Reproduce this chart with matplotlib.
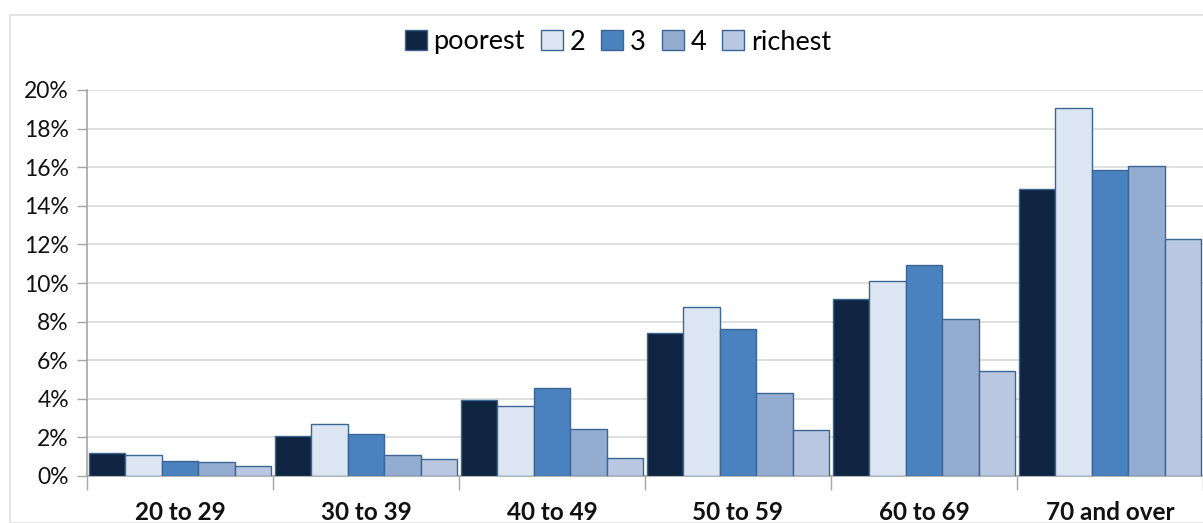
import matplotlib.pyplot as plt
import matplotlib.patches as mpatches
from matplotlib.ticker import FixedLocator, FuncFormatter
import numpy as np

# Age groups and the share (%) in each wealth quintile
age_groups = ["20 to 29", "30 to 39", "40 to 49", "50 to 59", "60 to 69", "70 and over"]
quintiles = ["poorest", "2", "3", "4", "richest"]
poorest = [1.18, 2.07, 3.94, 7.41, 9.17, 14.89]
q2 = [1.10, 2.71, 3.63, 8.74, 10.10, 19.08]
q3 = [0.80, 2.19, 4.56, 7.63, 10.93, 15.87]
q4 = [0.74, 1.07, 2.43, 4.32, 8.12, 16.05]
richest = [0.53, 0.88, 0.93, 2.40, 5.46, 12.30]
series = [poorest, q2, q3, q4, richest]
colors = ["#0F2440", "#DCE6F2", "#4A81BF", "#93ACD0", "#B9C7E0"]
edge = "#3D6594"

plt.rcParams["font.family"] = ["Lato", "DejaVu Sans"]

fig = plt.figure(figsize=(12.03, 5.23), dpi=100)
# chart frame
fig.patches.append(mpatches.Rectangle((10 / 1203, 0), 1.0, 1 - 15 / 523,
                                      transform=fig.transFigure, facecolor="white",
                                      edgecolor="#E4E4E4", linewidth=1.5, zorder=-1))

ax = fig.add_axes([87 / 1203, 1 - 476 / 523, (1203 - 87) / 1203, (476 - 90) / 523])
ax.set_facecolor("none")

n = len(series)
group_w = 0.98
w = group_w / n
x = np.arange(len(age_groups))
for i, (vals, c, name) in enumerate(zip(series, colors, quintiles)):
    ax.bar(x - group_w / 2 + w * (i + 0.5), vals, width=w, color=c,
           edgecolor=edge, linewidth=1.0, label=name, zorder=3)

ax.set_xlim(-0.5, len(age_groups) - 0.5)
ax.set_ylim(0, 20)
ax.yaxis.set_major_locator(FixedLocator(np.arange(0, 21, 2)))
ax.yaxis.set_major_formatter(FuncFormatter(lambda v, p: f"{v:.0f}%"))
ax.grid(axis="y", color="#D9D9D9", linewidth=1.2, zorder=0)
ax.tick_params(axis="y", length=7, width=1, color="#A6A6A6", labelsize=16.5, pad=6,
               labelcolor="#111111")

ax.set_xticks(x)
ax.set_xticklabels(age_groups, fontsize=17.5, fontweight="bold", color="#111111")
ax.tick_params(axis="x", which="major", length=0, pad=18)
ax.set_xticks(np.arange(-0.5, len(age_groups) + 0.5, 1), minor=True)
ax.tick_params(axis="x", which="minor", length=10, width=1, color="#A6A6A6")

for s in ["top", "right"]:
    ax.spines[s].set_visible(False)
for s in ["left", "bottom"]:
    ax.spines[s].set_color("#A6A6A6")
    ax.spines[s].set_linewidth(1.2)

fig.legend(loc="center", bbox_to_anchor=(618 / 1203, 1 - 42 / 523), ncol=5,
           frameon=False, fontsize=19.5, handlelength=0.8, handleheight=0.8,
           handletextpad=0.25, columnspacing=0.6)

fig.savefig("out.png", dpi=100)
